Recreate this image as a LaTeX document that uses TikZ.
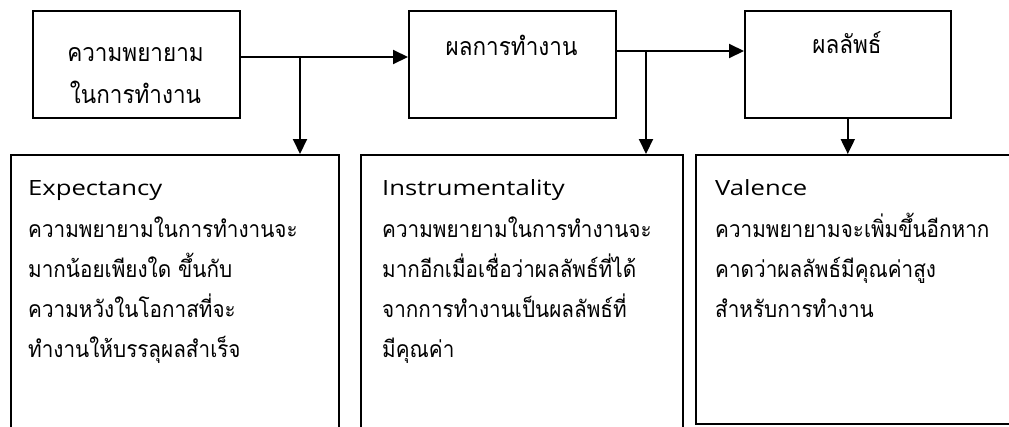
\documentclass[tikz,border=0pt]{standalone}
\usepackage{fontspec}
\setmainfont{Open Sans}
\newfontfamily\thaifont[Script=Thai,FakeStretch=0.9]{Loma}
\newfontfamily\headfont[FakeStretch=1.22]{Open Sans}
\usetikzlibrary{arrows.meta}
\begin{document}
\begin{tikzpicture}[x=1pt,y=-1pt,
  box/.style={draw,line width=1.6pt,inner sep=0pt,anchor=north west},
  conn/.style={line width=2pt,-{Triangle[length=15pt,width=14pt]}},
  toptxt/.style={inner sep=0pt,font=\thaifont\fontsize{25}{41}\selectfont,anchor=base},
  headtxt/.style={inner sep=0pt,font=\headfont\fontsize{21}{24}\selectfont,anchor=base west},
  bodytxt/.style={inner sep=0pt,font=\thaifont\fontsize{23}{40}\selectfont,anchor=base west}]
\clip (0,0) rectangle (1009,426);
\fill[white] (0,0) rectangle (1009,426);
% top boxes
\node[box,minimum width=207pt,minimum height=107pt] (b1) at (32,10) {};
\node[box,minimum width=207pt,minimum height=107pt] (b2) at (408,10) {};
\node[box,minimum width=206pt,minimum height=107pt] (b3) at (744,10) {};
% bottom boxes
\node[box,minimum width=328pt,minimum height=300pt] (bA) at (10,154) {};
\node[box,minimum width=322pt,minimum height=300pt] (bB) at (360,154) {};
\node[box,minimum width=330pt,minimum height=269pt] (bC) at (695,154) {};
% top texts
\node[toptxt] (t1) at (135.5,61) {\vtop{\baselineskip=42pt\hbox to 0pt{\hss ความพยายาม\hss}\hbox to 0pt{\hss ในการทำงาน\hss}}};
\node[toptxt] (t2) at (511.5,55) {ผลการทำงาน};
\node[toptxt] (t3) at (847,53) {ผลลัพธ์};
% bottom texts
\node[headtxt] (hA) at (28,195) {Expectancy};
\node[bodytxt] (xA) at (28,237) {\vtop{\baselineskip=40pt\hbox{ความพยายามในการทำงานจะ}\hbox{มากน้อยเพียงใด ขึ้นกับ}\hbox{ความหวังในโอกาสที่จะ}\hbox{ทำงานให้บรรลุผลสำเร็จ}}};
\node[headtxt] (hB) at (382,195) {Instrumentality};
\node[bodytxt] (xB) at (382,237) {\vtop{\baselineskip=40pt\hbox{ความพยายามในการทำงานจะ}\hbox{มากอีกเมื่อเชื่อว่าผลลัพธ์ที่ได้}\hbox{จากการทำงานเป็นผลลัพธ์ที่}\hbox{มีคุณค่า}}};
\node[headtxt] (hC) at (715,195) {Valence};
\node[bodytxt] (xC) at (715,237) {\vtop{\baselineskip=40pt\hbox{ความพยายามจะเพิ่มขึ้นอีกหาก}\hbox{คาดว่าผลลัพธ์มีคุณค่าสูง}\hbox{สำหรับการทำงาน}}};
% connectors
\coordinate (j1) at (300,57);
\coordinate (j2) at (646,51);
\draw[conn] (b1.east |- j1) -- (b2.west |- j1);
\draw[conn] (j1) -- (j1 |- bA.north);
\draw[conn] (b2.east |- j2) -- (b3.west |- j2);
\draw[conn] (j2) -- (j2 |- bB.north);
\draw[conn] (b3.south) -- (b3.south |- bC.north);
\end{tikzpicture}
\end{document}
